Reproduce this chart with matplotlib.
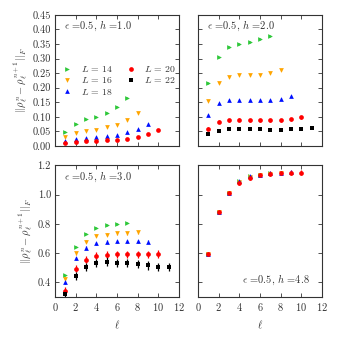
"""Frobenius-norm differences of reduced density matrices, four fields h."""
import matplotlib
matplotlib.use("Agg")
import matplotlib.pyplot as plt
from matplotlib.lines import Line2D

plt.rcParams["font.family"] = "serif"
plt.rcParams["font.serif"] = ["cmr10", "DejaVu Serif"]
plt.rcParams["mathtext.fontset"] = "cm"
plt.rcParams["axes.formatter.use_mathtext"] = True

sizes = [14, 16, 18, 20, 22]
ell = {14: list(range(1, 8)), 16: list(range(1, 9)), 18: list(range(1, 10)),
       20: list(range(1, 11)), 22: list(range(1, 12))}

# h = 1.0  (no L=22 points visible)
h1_L14 = [0.049, 0.077, 0.091, 0.101, 0.114, 0.135, 0.166]
h1_L16 = [0.030, 0.043, 0.052, 0.056, 0.064, 0.073, 0.088, 0.113]
h1_L18 = [0.017, 0.025, 0.029, 0.031, 0.034, 0.039, 0.047, 0.058, 0.076]
h1_L20 = [0.009, 0.014, 0.017, 0.017, 0.019, 0.022, 0.025, 0.032, 0.040, 0.054]

# h = 2.0
h2_L14 = [0.217, 0.304, 0.339, 0.351, 0.358, 0.366, 0.378]
h2_L16 = [0.156, 0.215, 0.236, 0.242, 0.243, 0.245, 0.249, 0.260]
h2_L18 = [0.107, 0.146, 0.157, 0.159, 0.159, 0.158, 0.159, 0.163, 0.172]
h2_L20 = [0.060, 0.084, 0.089, 0.090, 0.089, 0.088, 0.088, 0.089, 0.092, 0.099]
h2_L22 = [0.040, 0.053, 0.058, 0.058, 0.058, 0.057, 0.056, 0.056, 0.057, 0.059, 0.063]

# h = 3.0
h3_L14 = [0.448, 0.645, 0.734, 0.775, 0.791, 0.800, 0.809]
h3_L16 = [0.425, 0.600, 0.677, 0.718, 0.725, 0.735, 0.736, 0.743]
h3_L18 = [0.400, 0.566, 0.636, 0.666, 0.677, 0.681, 0.682, 0.682, 0.677]
h3_L20 = [0.345, 0.495, 0.555, 0.584, 0.589, 0.593, 0.593, 0.593, 0.591, 0.595]
h3_L22 = [0.323, 0.445, 0.505, 0.532, 0.543, 0.534, 0.532, 0.525, 0.516, 0.507, 0.507]

# h = 4.8  (L=22 not visible)
h48_L14 = [0.595, 0.882, 1.013, 1.093, 1.125, 1.136, 1.144]
h48_L16 = [0.593, 0.880, 1.011, 1.085, 1.120, 1.134, 1.143, 1.148]
h48_L18 = [0.595, 0.882, 1.013, 1.093, 1.125, 1.136, 1.144, 1.149, 1.151]
h48_L20 = [0.593, 0.880, 1.010, 1.077, 1.116, 1.134, 1.143, 1.148, 1.150, 1.150]

# error bar half-widths per panel, one per L
err_h1 = [0.002, 0.002, 0.002, 0.002, 0.002]
err_h2 = [0.003, 0.003, 0.003, 0.005, 0.003]
err_h3 = [0.005, 0.010, 0.010, 0.025, 0.028]
err_h48 = [0.008, 0.008, 0.008, 0.015, 0.010]

panels = [
    ("1.0", {14: h1_L14, 16: h1_L16, 18: h1_L18, 20: h1_L20}, err_h1),
    ("2.0", {14: h2_L14, 16: h2_L16, 18: h2_L18, 20: h2_L20, 22: h2_L22}, err_h2),
    ("3.0", {14: h3_L14, 16: h3_L16, 18: h3_L18, 20: h3_L20, 22: h3_L22}, err_h3),
    ("4.8", {14: h48_L14, 16: h48_L16, 18: h48_L18, 20: h48_L20}, err_h48),
]

colors = {14: "#2fc83a", 16: "#ffa500", 18: "#0010ff", 20: "#ff0000", 22: "#000000"}
markers = {14: ">", 16: "v", 18: "^", 20: "o", 22: "s"}
ink = "#333333"
fs = 7.5

fig = plt.figure(figsize=(3.38, 3.38), dpi=100)
boxes = [
    (0.163, 0.568, 0.367, 0.388),
    (0.586, 0.568, 0.367, 0.388),
    (0.163, 0.121, 0.367, 0.390),
    (0.586, 0.121, 0.367, 0.390),
]
ylabel = r"$||\rho_\ell^n - \rho_\ell^{n+1}||_F$"

for idx, ((hval, series, errs), box) in enumerate(zip(panels, boxes)):
    ax = fig.add_axes(box)
    for k, L in enumerate(sizes):
        if L not in series:
            continue
        y = series[L]
        x = ell[L][:len(y)]
        ax.errorbar(x, y, yerr=errs[k], fmt=markers[L], color=colors[L],
                    ms=3.4, mew=0, elinewidth=0.9, capsize=1.8, capthick=0.9)
    ax.set_xlim(0, 12)
    ax.set_xticks(range(0, 13, 2))
    if idx < 2:
        ax.set_ylim(0, 0.45)
        ax.set_yticks([0.0, 0.05, 0.10, 0.15, 0.20, 0.25, 0.30, 0.35, 0.40, 0.45])
        ax.set_yticklabels(["0.00", "0.05", "0.10", "0.15", "0.20", "0.25",
                            "0.30", "0.35", "0.40", "0.45"])
    else:
        ax.set_ylim(0.3, 1.2)
        ax.set_yticks([0.4, 0.6, 0.8, 1.0, 1.2])
        ax.set_yticklabels(["0.4", "0.6", "0.8", "1.0", "1.2"])
    ax.tick_params(direction="in", top=True, right=True, length=3, width=0.6,
                   labelsize=fs, colors=ink, pad=3)
    for sp in ax.spines.values():
        sp.set_color(ink)
        sp.set_linewidth(0.8)
    if idx % 2 == 1:
        ax.tick_params(labelleft=False)
    else:
        ax.set_ylabel(ylabel, fontsize=fs, color=ink, labelpad=2)
    if idx < 2:
        ax.tick_params(labelbottom=False)
    else:
        ax.set_xlabel(r"$\ell$", fontsize=fs, color=ink)
    label = r"$\epsilon$ =0.5, $h$ =" + hval
    if hval == "4.8":
        ax.text(0.9, 0.13, label, transform=ax.transAxes, ha="right",
                va="center", fontsize=fs, color=ink)
    else:
        ax.text(0.07, 0.915, label, transform=ax.transAxes, ha="left",
                va="center", fontsize=fs, color=ink)
    if idx == 0:
        handles = [Line2D([], [], ls="none", marker=markers[L], color=colors[L],
                          ms=3.4, mew=0) for L in sizes]
        labels = [rf"$L$ = {L}" for L in sizes]
        ax.legend(handles, labels, ncol=2, loc="upper left",
                  bbox_to_anchor=(-0.01, 0.69), frameon=False, fontsize=7,
                  handlelength=1.0, handletextpad=0.9, columnspacing=1.3,
                  labelspacing=0.12, labelcolor=ink)

fig.savefig("out.png", dpi=100)
